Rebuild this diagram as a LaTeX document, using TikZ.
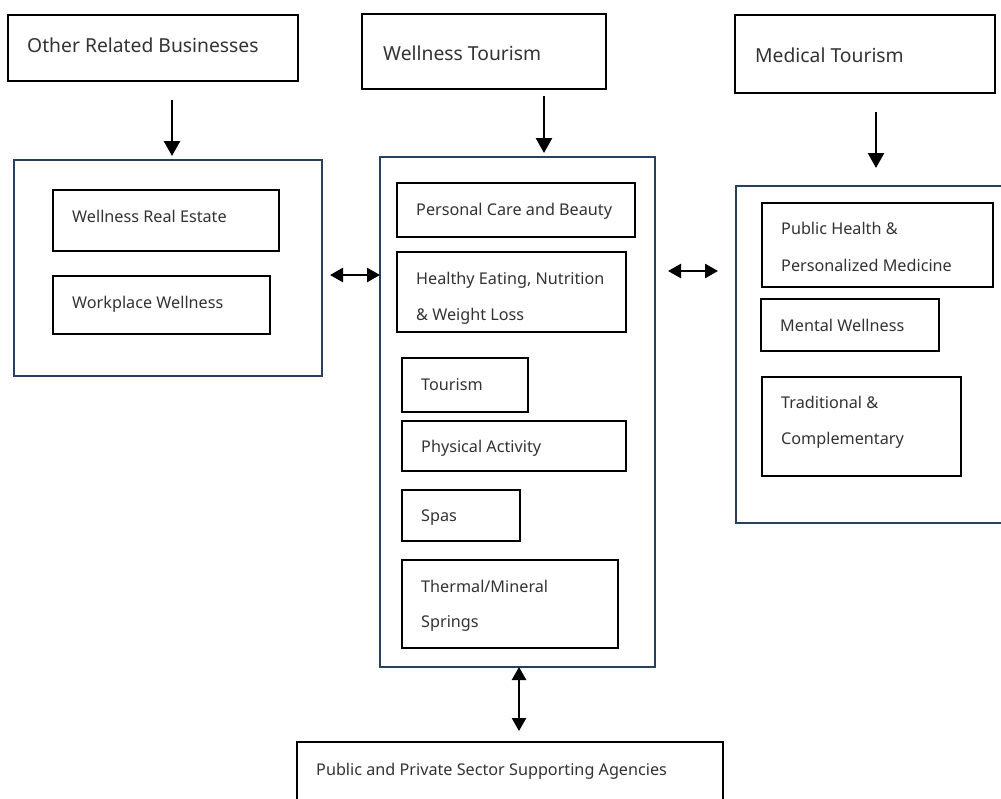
\documentclass[tikz,border=0pt]{standalone}
\usepackage{fontspec}
\setmainfont{Noto Sans}
\usetikzlibrary{arrows.meta,fit,calc}
\definecolor{navy}{HTML}{28405F}
\definecolor{txt}{HTML}{333333}
\tikzset{
  box/.style={draw=black, line width=1.6pt, inner sep=0pt, fill=white},
  cont/.style={draw=navy, line width=2.2pt, inner sep=0pt},
  arr/.style={line width=2.5pt, -{Triangle[width=16pt,length=15pt]}},
  darr/.style={line width=2.5pt, {Triangle[width=14pt,length=13pt]}-{Triangle[width=14pt,length=13pt]}},
  head/.style={anchor=base west, inner sep=0pt, text=txt, font=\fontsize{19.3}{23}\selectfont},
  lbl/.style={anchor=base west, inner sep=0pt, text=txt, font=\fontsize{16.2}{19}\selectfont},
}
\begin{document}
\begin{tikzpicture}[x=1pt,y=-1pt]
\useasboundingbox (0,0) rectangle (1001,798);
\clip (0,0) rectangle (1001,798);
\fill[white] (0,0) rectangle (1001,798);
% top boxes
\node[box, fit={(8,15) (298,81)}] (orb) {};
\node[head] at (27,52.5) {Other Related Businesses};
\node[box, fit={(362,14) (606,89)}] (wt) {};
\node[head] at (383,60.5) {Wellness Tourism};
\node[box, fit={(735,15) (995,93)}] (mt) {};
\node[head] at (755,62.5) {Medical Tourism};
% containers
\node[cont, fit={(14,160) (322,376)}] (lc) {};
\node[cont, fit={(380,157) (655,667)}] (cc) {};
\node[cont, fit={(736,186) (1010,523)}] (rc) {};
% left inner
\node[box, fit={(53,190) (279,251)}] (wre) {};
\node[lbl] at (72,222.5) {Wellness Real Estate};
\node[box, fit={(53,276) (270,334)}] (ww) {};
\node[lbl] at (72,308.5) {Workplace Wellness};
% center inner
\node[box, fit={(397,183) (635,237)}] (pcb) {};
\node[lbl] at (416,215.5) {Personal Care and Beauty};
\node[box, fit={(397,252) (626,332)}] (he) {};
\node[lbl] at (416,284.5) {Healthy Eating, Nutrition};
\node[lbl] at (416,320.5) {\& Weight Loss};
\node[box, fit={(402,358) (528,412)}] (tour) {};
\node[lbl] at (421,390.5) {Tourism};
\node[box, fit={(402,421) (626,471)}] (pa) {};
\node[lbl] at (421,452.5) {Physical Activity};
\node[box, fit={(402,490) (520,541)}] (spa) {};
\node[lbl] at (421,521.5) {Spas};
\node[box, fit={(402,560) (618,648)}] (tms) {};
\node[lbl] at (421,592.5) {Thermal/Mineral};
\node[lbl] at (421,627.5) {Springs};
% right inner
\node[box, fit={(762,203) (993,287)}] (ph) {};
\node[lbl] at (781,234.5) {Public Health \&};
\node[lbl] at (781,271.5) {Personalized Medicine};
\node[box, fit={(761,299) (939,351)}] (mw) {};
\node[lbl] at (780,331.5) {Mental Wellness};
\node[box, fit={(762,377) (961,476)}] (tc) {};
\node[lbl] at (781,408.5) {Traditional \&};
\node[lbl] at (781,444.5) {Complementary};
% bottom
\node[box, fit={(297,742) (723,810)}] (ps) {};
\node[lbl] at (316,775.5) {Public and Private Sector Supporting Agencies};
% arrows
\coordinate (a1) at (172,100);
\draw[arr] (a1) -- (172,156);
\coordinate (a2) at (544,96);
\draw[arr] (a2) -- (544,153);
\coordinate (a3) at (876,112);
\draw[arr] (a3) -- (876,168);
\draw[darr] (330,275) -- (380,275);
\draw[darr] (668,271) -- (718,271);
\coordinate (a4) at (519,667);
\draw[darr] (a4) -- (519,731);
\end{tikzpicture}
\end{document}
